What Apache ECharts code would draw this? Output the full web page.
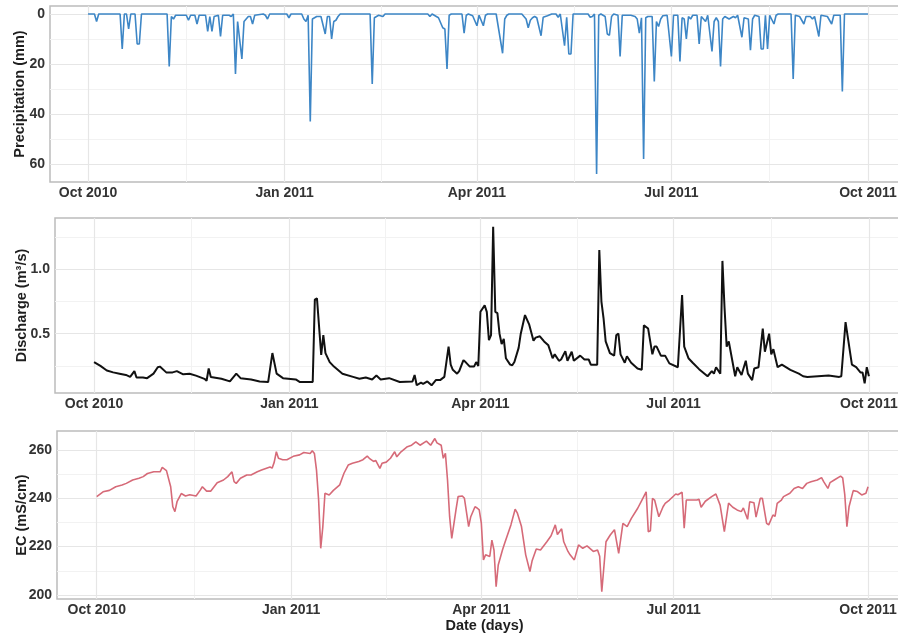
<!DOCTYPE html>
<html><head><meta charset="utf-8">
<script src="https://cdn.jsdelivr.net/npm/echarts@6/dist/echarts.min.js"></script>
<style>html,body{margin:0;padding:0;background:#fff}#c{width:898px;height:633px}</style>
</head><body><div id="c"></div><script>
// x positions are days since 1 Oct 2010
const tickDays = [0, 92, 182, 273, 365];
const tickLabels = ['Oct 2010', 'Jan 2011', 'Apr 2011', 'Jul 2011', 'Oct 2011'];
const minorDays = [46, 137, 227.5, 319];

const precipTicks = [0, 20, 40, 60];
const precipMinor = [10, 30, 50];
const dischargeTicks = [0.5, 1.0];
const dischargeMinor = [0.25, 0.75, 1.25];
const ecTicks = [200, 220, 240, 260];
const ecMinor = [210, 230, 250];

// [day, mm]
const precipitation = [
[0,0],[3,0],[4,3],[5,0],[15,0],[16,14],[17,0],[18,0],[19,6],[20,0],[22,0],[23,12],[24,12],[25,0],
[37,0],[38,21],[39,1],[40,2],[41,0.5],[46,0.5],[47,2.5],[48,0.5],[50,0.5],[51,4],[52,0.5],[55,0.5],
[56,7],[57,1],[58,7],[59,1],[61,0.5],[62,9],[63,0.5],[66,0.5],[67,1],[68,0],[69,24],[70,3],[72,18],
[73,3],[74,2],[75,1],[76,1],[77,4],[78,0.5],[82,0],[83,0.5],[84,2],[85,0],[93,0],[94,1.5],[95,0],
[100,0],[101,2],[102,3],[103,0.5],[104,43],[105,2],[106,1.5],[107,1],[109,1],[111,8],[112,1],[113,1],
[114,10],[115,3],[116,2.5],[117,1],[118,0],[132,0],[133,28],[134,1.5],[135,1],[136,0.5],[138,1],[139,0],
[159,0],[160,1],[161,0],[164,1.5],[166,5.5],[167,6],[168,22],[169,0.5],[170,0],[175,0],[176,7.7],
[177,0.5],[178,0],[180,0.7],[182,4.7],[183,0.5],[185,4.7],[186,0.5],[187,0],[191,0],[194,15.7],[195,2],
[196,0.5],[197,0],[203,0],[205,2],[206,5.5],[207,2.5],[208,1.5],[209,1],[210,1.5],[212,8.7],[213,1.3],
[215,0.7],[217,0],[219,0],[220,1.3],[221,0],[223,12.7],[224,1.3],[225,16],[226,16],[227,0],[234,0],
[235,1.3],[236,1],[237,0],[238,64],[239,0.5],[240,0],[241,0.5],[242,1],[243,8],[244,8.5],[245,1],[246,0],
[248,0.5],[249,17],[250,0.5],[254,0.5],[256,1],[257,2],[258,7.7],[259,1.5],[260,58],[261,1.5],[262,1],
[264,1],[265,27],[266,3],[267,5],[268,2],[269,0.7],[271,0.5],[273,17],[274,0.5],[276,0.5],[277,19],
[278,1.5],[279,2],[280,10],[281,1],[282,2],[283,0.5],[285,0.5],[286,12],[287,1],[289,3],[290,0.5],
[292,15],[293,3],[294,1.5],[295,3],[296,21],[297,2],[298,1],[300,2],[302,1],[303,1.5],[304,0.5],
[306,9.3],[307,1.5],[309,2],[310,14.5],[311,2],[312,0.5],[314,1],[315,14],[316,14],[317,0.5],[318,14],
[319,0.5],[321,4],[322,0.5],[323,0],[329,0],[330,26],[331,0.5],[333,1],[335,4],[336,1],[338,1],[339,2],
[340,1],[342,9],[343,0.5],[346,1],[348,4],[349,0.5],[352,0.5],[353,31],[354,0],[365,0]
];

// [day, m3/s]
const discharge = [
[0,0.28],[3,0.25],[6,0.215],[9,0.20],[12,0.19],[15,0.18],[17,0.165],[19,0.21],[20,0.16],[23,0.16],
[25,0.155],[28,0.19],[30,0.24],[31,0.245],[34,0.20],[37,0.20],[39,0.21],[42,0.185],[45,0.19],[48,0.175],
[52,0.15],[53,0.135],[54,0.23],[55,0.165],[60,0.15],[64,0.13],[67,0.19],[69,0.155],[74,0.145],[78,0.13],
[82,0.125],[84,0.35],[86,0.19],[89,0.155],[95,0.145],[97,0.125],[103,0.125],[104,0.765],[105,0.775],
[107,0.335],[108,0.49],[109,0.35],[111,0.28],[113,0.245],[117,0.19],[122,0.165],[125,0.15],[128,0.16],
[131,0.145],[133,0.175],[135,0.145],[139,0.155],[144,0.125],[150,0.13],[151,0.18],[152,0.10],[154,0.12],
[155,0.11],[157,0.13],[159,0.10],[161,0.14],[163,0.14],[165,0.165],[167,0.40],[168,0.26],[169,0.22],
[171,0.19],[172,0.21],[174,0.295],[175,0.28],[177,0.245],[179,0.245],[180,0.28],[181,0.25],[182,0.67],
[184,0.72],[185,0.67],[186,0.45],[187,0.49],[188,1.33],[189,0.67],[190,0.66],[191,0.50],[192,0.42],
[193,0.46],[194,0.31],[196,0.26],[197,0.255],[198,0.28],[200,0.39],[201,0.50],[203,0.645],[205,0.57],
[207,0.445],[208,0.47],[210,0.48],[212,0.44],[214,0.41],[215,0.36],[216,0.31],[217,0.34],[219,0.29],
[220,0.30],[222,0.365],[223,0.29],[225,0.36],[226,0.29],[229,0.33],[231,0.30],[233,0.30],[234,0.26],
[237,0.26],[238,1.15],[239,0.75],[240,0.62],[241,0.44],[243,0.35],[245,0.33],[246,0.49],[247,0.50],
[248,0.34],[250,0.275],[251,0.325],[253,0.275],[256,0.23],[258,0.22],[259,0.565],[261,0.54],[263,0.34],
[264,0.40],[265,0.40],[267,0.33],[269,0.33],[271,0.27],[275,0.24],[277,0.80],[278,0.40],[280,0.31],
[282,0.275],[285,0.225],[289,0.17],[291,0.21],[292,0.19],[293,0.24],[295,0.19],[296,1.065],[297,0.70],
[298,0.40],[299,0.44],[302,0.17],[303,0.24],[305,0.18],[307,0.29],[308,0.19],[310,0.14],[311,0.23],
[313,0.24],[315,0.54],[316,0.36],[318,0.50],[319,0.34],[320,0.38],[322,0.24],[324,0.26],[328,0.22],
[332,0.19],[334,0.17],[336,0.165],[341,0.17],[346,0.175],[351,0.165],[352,0.17],[354,0.59],[355,0.48],
[357,0.26],[359,0.24],[361,0.20],[362,0.20],[363,0.115],[364,0.24],[365,0.17]
];

// [day, mS/cm]
const ec = [
[0,240.7],[3,242.7],[6,243.3],[9,244.8],[12,245.5],[14,246.2],[17,247.6],[20,248.3],[22,249],[24,250.3],
[27,251],[30,251],[31,252.8],[33,251.5],[35,244.8],[36,236.5],[37,234.5],[38,238.6],[40,242],[42,241],
[44,241.5],[47,241],[49,243.4],[50,244.8],[52,243],[54,243],[57,246.5],[60,247.6],[62,249],[64,251],
[65,246.9],[66,246.2],[68,248.3],[71,249.7],[73,249.7],[76,251],[78,251.7],[82,253],[83,252.5],[84,255],
[85,259.3],[86,256.6],[88,256],[90,256],[93,257.4],[96,258],[98,259],[101,258.6],[102,259.7],[103,258.6],
[104,251.7],[105,239.3],[106,219.3],[107,228.3],[108,242.1],[110,241.4],[112,243.3],[115,245.6],
[117,250.4],[119,253.8],[121,254.5],[124,255.3],[126,256],[128,257.5],[129,256.6],[131,255.3],
[132,255.7],[134,252.4],[135,254.5],[137,255],[139,256.6],[141,259.3],[142,257.2],[144,259.3],
[147,261.4],[149,262],[151,263.4],[153,262],[156,263.7],[158,262],[160,264.8],[161,263],[163,262],
[164,256.6],[165,258.7],[166,247.6],[167,232.4],[168,223.4],[170,235.2],[171,240.7],[173,241],[174,240],
[176,228.3],[177,232.4],[179,236.5],[180,236],[181,235.2],[182,229.7],[183,214.5],[184,216.6],
[186,215.9],[187,222.7],[188,218.5],[189,203.4],[190,212.4],[192,218.6],[193,221.3],[196,229],
[198,235.5],[199,234],[201,228.3],[203,216.6],[205,209.7],[206,214],[208,219],[210,218.6],[213,222],
[215,224.5],[217,229],[218,225],[220,227.4],[221,222],[223,218],[224,216.6],[226,214.5],[228,220.7],
[230,219.3],[232,220.3],[235,218],[237,218.6],[238,216],[239,201.3],[241,222],[243,224.8],[245,227],
[247,217.2],[249,229.6],[251,228.3],[253,231.7],[256,235.9],[258,239.3],[260,242.7],[261,226.2],
[262,226.6],[263,240],[264,239.3],[266,232.4],[268,236.5],[269,237.9],[271,239.3],[274,241.8],
[275,241.5],[277,242.5],[278,227.6],[279,239.3],[282,239.3],[284,239.3],[285,239.6],[286,236.3],
[288,238.8],[291,240.7],[293,241.8],[295,237.2],[297,226.2],[299,238],[301,236.3],[303,235.2],
[305,234.5],[306,236],[308,231.3],[309,238.6],[311,238.2],[312,232.2],[314,240],[315,240],[317,229.6],
[318,229],[320,233.1],[321,232.5],[322,237.9],[324,239.3],[325,240.7],[328,242.1],[330,244.1],
[332,244.8],[334,244.1],[336,246.2],[338,246.9],[341,247.6],[343,248.6],[344,246.9],[346,244.1],
[347,246.5],[349,247.6],[352,249.2],[353,248.5],[354,241.4],[355,228.3],[356,236.5],[358,243.2],
[360,242.8],[362,241.4],[364,242.1],[365,244.8]
];

const FONT = '"Liberation Sans", Arial, sans-serif';
const MAJOR = '#e6e6e6', MINOR = '#f2f2f2';

function gridLines(xMajor, xMinor, yMajor, yMinor) {
  const d = [];
  xMinor.forEach(v => d.push({xAxis: v, lineStyle: {color: MINOR, width: 1, type: 'solid'}}));
  yMinor.forEach(v => d.push({yAxis: v, lineStyle: {color: MINOR, width: 1, type: 'solid'}}));
  xMajor.forEach(v => d.push({xAxis: v, lineStyle: {color: MAJOR, width: 1.2, type: 'solid'}}));
  yMajor.forEach(v => d.push({yAxis: v, lineStyle: {color: MAJOR, width: 1.2, type: 'solid'}}));
  return {silent: true, z: 1, symbol: ['none', 'none'], label: {show: false}, animation: false, data: d};
}

const gridStyle = {show: true, borderColor: '#bcbcbc', borderWidth: 1.5, backgroundColor: '#fff',
  outerBoundsMode: 'none', containLabel: false};
const xLabel = {
  customValues: tickDays,
  formatter: v => tickLabels[tickDays.indexOf(v)],
  fontFamily: FONT, fontWeight: 'bold', fontSize: 14, color: '#333', margin: 4
};
const yLabel = (vals, fmt) => ({customValues: vals, formatter: fmt, fontFamily: FONT, fontWeight: 'bold',
  fontSize: 14, color: '#333', margin: 5});
const nameStyle = {fontFamily: FONT, fontWeight: 'bold', fontSize: 14.5, color: '#1e1e1e'};

function xAx(i, min, max, extra) {
  return Object.assign({type: 'value', gridIndex: i, min: min, max: max,
    axisLine: {show: false}, axisTick: {show: false}, splitLine: {show: false},
    axisLabel: xLabel}, extra || {});
}
function yAx(i, min, max, ticks, fmt, name, gap, inverse) {
  return {type: 'value', gridIndex: i, min: min, max: max, inverse: !!inverse,
    axisLine: {show: false}, axisTick: {show: false}, splitLine: {show: false},
    axisLabel: yLabel(ticks, fmt),
    name: name, nameLocation: 'middle', nameRotate: 90, nameGap: gap, nameMoveOverlap: false,
    nameTextStyle: nameStyle};
}

const option = {
  animation: false,
  backgroundColor: '#fff',
  grid: [
    Object.assign({left: 50, top: 6, width: 862, height: 176}, gridStyle),
    Object.assign({left: 55, top: 218, width: 857, height: 175}, gridStyle),
    Object.assign({left: 57, top: 431, width: 855, height: 168}, gridStyle)
  ],
  xAxis: [
    xAx(0, -17.8, 385.6),
    xAx(1, -18.4, 385.3),
    Object.assign(xAx(2, -18.8, 385.8), {name: 'Date (days)', nameLocation: 'middle', nameGap: 19,
      nameMoveOverlap: false, nameTextStyle: nameStyle})
  ],
  yAxis: [
    yAx(0, -3.2, 67.2, precipTicks, v => String(v), 'Precipitation (mm)', 23, true),
    yAx(1, 0.04, 1.398, dischargeTicks, v => v.toFixed(1), 'Discharge (m³/s)', 26),
    yAx(2, 198.3, 267.9, ecTicks, v => String(v), 'EC (mS/cm)', 28)
  ],
  series: [
    {type: 'line', xAxisIndex: 0, yAxisIndex: 0, data: precipitation, showSymbol: false, z: 1,
     lineStyle: {opacity: 0}, markLine: gridLines(tickDays, minorDays, precipTicks, precipMinor)},
    {type: 'line', xAxisIndex: 1, yAxisIndex: 1, data: discharge, showSymbol: false, z: 1,
     lineStyle: {opacity: 0}, markLine: gridLines(tickDays, minorDays, dischargeTicks, dischargeMinor)},
    {type: 'line', xAxisIndex: 2, yAxisIndex: 2, data: ec, showSymbol: false, z: 1,
     lineStyle: {opacity: 0}, markLine: gridLines(tickDays, minorDays, ecTicks, ecMinor)},
    {type: 'line', xAxisIndex: 0, yAxisIndex: 0, data: precipitation, showSymbol: false, z: 10,
     lineStyle: {color: '#3d86c6', width: 1.6}},
    {type: 'line', xAxisIndex: 1, yAxisIndex: 1, data: discharge, showSymbol: false, z: 10,
     lineStyle: {color: '#111111', width: 2}},
    {type: 'line', xAxisIndex: 2, yAxisIndex: 2, data: ec, showSymbol: false, z: 10,
     lineStyle: {color: '#d66a78', width: 1.6}}
  ]
};
echarts.init(document.getElementById('c'), null, {renderer: 'canvas'}).setOption(option);
</script></body></html>
